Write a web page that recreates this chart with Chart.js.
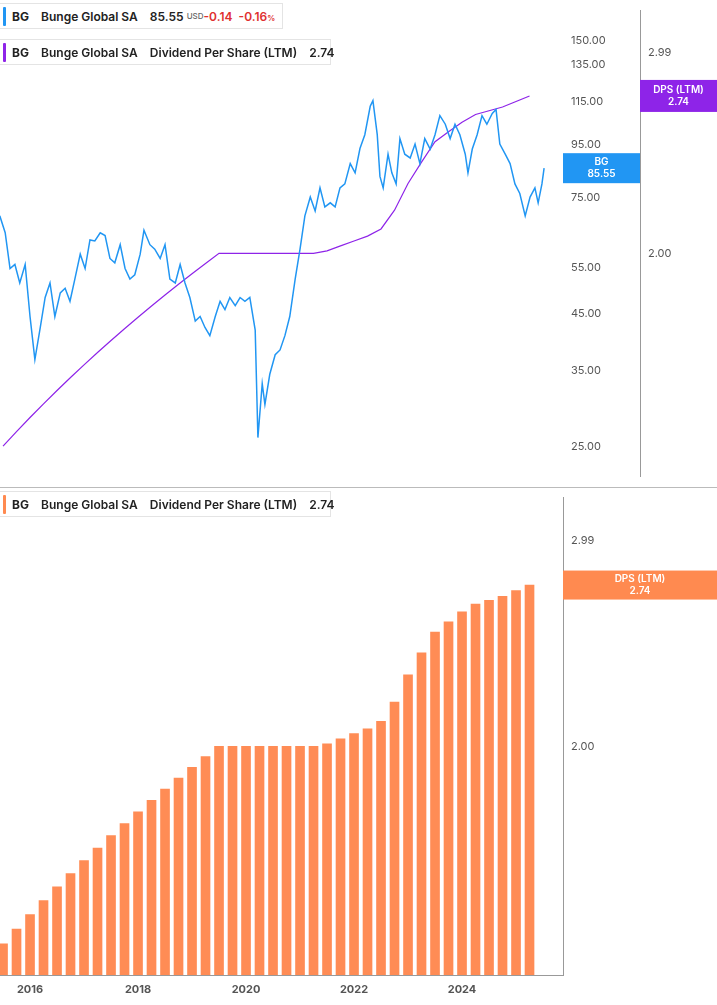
<!DOCTYPE html>
<html><head><meta charset="utf-8">
<script src="https://cdn.jsdelivr.net/npm/chart.js@4.4.1/dist/chart.umd.min.js"></script>
<style>
body{margin:0;width:717px;height:1005px;background:#fff;font-family:Inter,"Noto Sans",sans-serif;position:relative;overflow:hidden}
#c1{position:absolute;left:0;top:0}
#c2{position:absolute;left:0;top:487px}
.sep{position:absolute;left:0;top:487px;width:717px;height:1px;background:#bbb}
.leg{position:absolute;left:0;height:26px;border:1px solid #e4e4e4;border-left:none;background:#fff;font-size:12px;font-weight:600;color:#222;display:flex;align-items:center;padding:0 10px 0 12px;box-sizing:border-box;white-space:pre}
.leg .bar{position:absolute;left:3px;top:3px;width:3px;height:19px;border-radius:1px}
.leg b{font-weight:700}
</style></head><body>
<canvas id="c1" width="717" height="487"></canvas>
<canvas id="c2" width="717" height="518"></canvas>
<div class="sep"></div>
<div class="leg" style="top:3px;width:283px"><span class="bar" style="background:#2196f3"></span><b>BG</b>    Bunge Global SA    85.55 <span style="font-size:8px;color:#666;font-weight:500">USD</span>  <span style="color:#e03030">-0.14  -0.16<span style="font-size:8px">%</span></span></div>
<div class="leg" style="top:39px;width:331px"><span class="bar" style="background:#8e24e8"></span><b>BG</b>    Bunge Global SA    Dividend Per Share (LTM)    2.74</div>
<div class="leg" style="top:491px;width:331px"><span class="bar" style="background:#ff8a50"></span><b>BG</b>    Bunge Global SA    Dividend Per Share (LTM)    2.74</div>
<script>
const priceYears=[2015.44,2015.54,2015.63,2015.72,2015.81,2015.91,2016.00,2016.09,2016.19,2016.28,2016.37,2016.46,2016.56,2016.65,2016.74,2016.83,2016.93,2017.02,2017.11,2017.20,2017.30,2017.39,2017.48,2017.57,2017.67,2017.76,2017.85,2017.94,2018.04,2018.11,2018.22,2018.31,2018.41,2018.50,2018.59,2018.69,2018.78,2018.87,2018.96,2019.06,2019.15,2019.24,2019.33,2019.43,2019.52,2019.61,2019.70,2019.80,2019.89,2019.98,2020.07,2020.17,2020.22,2020.30,2020.35,2020.44,2020.54,2020.63,2020.72,2020.81,2020.91,2021.00,2021.09,2021.19,2021.28,2021.37,2021.46,2021.56,2021.65,2021.74,2021.83,2021.93,2022.02,2022.11,2022.20,2022.30,2022.35,2022.43,2022.48,2022.54,2022.63,2022.70,2022.78,2022.85,2022.94,2023.04,2023.13,2023.22,2023.31,2023.41,2023.50,2023.59,2023.69,2023.78,2023.87,2023.96,2024.06,2024.11,2024.19,2024.28,2024.37,2024.46,2024.56,2024.63,2024.70,2024.80,2024.89,2024.98,2025.07,2025.17,2025.26,2025.35,2025.41,2025.48,2025.52];
const priceValues=[69.3,64.3,54.9,55.9,51.5,55.9,44.4,36.7,42.3,48.3,51.5,44.4,49.3,50.3,47.5,52.4,58.5,54.9,62.3,62.0,64.3,63.5,57.4,56.3,61.0,54.9,52.4,53.4,58.5,65.0,61.0,59.8,57.4,61.0,52.4,51.5,55.9,51.5,48.3,43.5,44.4,42.3,40.8,44.4,47.5,45.8,48.3,46.6,48.3,47.5,48.3,41.8,26.0,33.0,30.1,34.4,37.5,38.3,40.8,44.4,52.4,59.8,69.3,75.3,70.8,78.4,72.1,73.4,72.1,78.4,79.8,87.3,83.8,93.3,99.2,112.5,115.3,99.2,82.5,78.4,91.0,83.8,79.8,97.5,91.0,89.5,95.2,87.3,97.5,93.1,99.2,107.9,103.9,97.5,103.9,99.2,91.0,83.8,93.1,99.2,107.9,103.9,109.0,110.9,95.2,91.0,87.3,79.8,76.5,69.3,75.3,78.4,73.4,79.8,85.55];
const dpsYears=[2015.5,2015.75,2016,2016.25,2016.5,2016.75,2017,2017.25,2017.5,2017.75,2018,2018.25,2018.5,2018.75,2019,2019.25,2019.5,2019.75,2020,2020.25,2020.5,2020.75,2021,2021.25,2021.5,2021.75,2022,2022.25,2022.5,2022.75,2023,2023.25,2023.5,2023.75,2024,2024.25,2024.5,2024.75,2025,2025.25];
const dpsValues=[1.36,1.40,1.44,1.48,1.52,1.56,1.60,1.64,1.68,1.72,1.76,1.80,1.84,1.88,1.92,1.96,2.00,2.00,2.00,2.00,2.00,2.00,2.00,2.00,2.01,2.03,2.05,2.07,2.10,2.18,2.30,2.40,2.50,2.55,2.60,2.64,2.66,2.68,2.71,2.74];
const priceTicks=[150,135,115,95,75,55,45,35,25];
const dpsTicks=[2.99,2.00];
const yearTicks=[2016,2018,2020,2022,2024];
const xMin=2015.444,xMax=2025.87;
const FONT={family:'Inter, "Noto Sans", sans-serif',size:11};
const GREY='#555';

function setTicks(list){return s=>{s.ticks=list.map(v=>({value:v}));};}
function fixW(w){return s=>{s.width=w;};}

const tagPlugin={id:'tags',afterDraw(ch,a,o){
  const ctx=ch.ctx;
  (ch.options.plugins.tags.items||[]).forEach(t=>{
    const s=ch.scales[t.scale];const y=s.getPixelForValue(t.value);
    ctx.fillStyle=t.color;ctx.fillRect(t.x,y-t.h/2,t.w,t.h);
    ctx.fillStyle='#fff';ctx.textAlign='center';ctx.textBaseline='middle';
    ctx.font='600 10px Inter, "Noto Sans", sans-serif';
    ctx.fillText(t.l1,t.x+t.w/2,y-6);ctx.fillText(t.l2,t.x+t.w/2,y+6);
  });
}};

new Chart(document.getElementById('c1'),{
  type:'line',
  data:{datasets:[
    {data:priceYears.map((x,i)=>({x,y:priceValues[i]})),borderColor:'#2196f3',borderWidth:1.5,pointRadius:0,yAxisID:'yp',tension:0},
    {data:dpsYears.map((x,i)=>({x,y:dpsValues[i]})),borderColor:'#8e24e8',borderWidth:1.2,pointRadius:0,yAxisID:'yd',tension:0}
  ]},
  options:{responsive:false,animation:false,layout:{padding:0},
    plugins:{legend:{display:false},tooltip:{enabled:false},
      tags:{items:[
        {scale:'yp',value:85.55,x:563,w:77,h:30,color:'#2196f3',l1:'BG',l2:'85.55'},
        {scale:'yd',value:2.74,x:640,w:77,h:32,color:'#8e24e8',l1:'DPS (LTM)',l2:'2.74'}]}},
    scales:{
      x:{type:'linear',min:xMin,max:xMax,display:false,bounds:'data'},
      yp:{type:'logarithmic',bounds:'data',position:'right',min:21.9,max:171.7,afterBuildTicks:setTicks(priceTicks),afterFit:fixW(77),
        grid:{display:false,drawTicks:true,tickLength:4},border:{display:false},
        ticks:{font:FONT,color:GREY,padding:4,callback:v=>v.toFixed(2)}},
      yd:{type:'logarithmic',bounds:'data',position:'right',min:1.28,max:3.25,afterBuildTicks:setTicks(dpsTicks),afterFit:fixW(77),
        grid:{display:false,drawTicks:true,tickLength:4,color:'#999'},border:{display:true,color:'#999'},
        ticks:{font:FONT,color:GREY,padding:4,callback:v=>v.toFixed(2)}}
    }},
  plugins:[tagPlugin]
});

new Chart(document.getElementById('c2'),{
  type:'bar',
  data:{datasets:[{data:dpsYears.map((x,i)=>({x,y:dpsValues[i]})),backgroundColor:'#ff8c55',barThickness:9,yAxisID:'y'}]},
  options:{responsive:false,animation:false,layout:{padding:0},
    plugins:{legend:{display:false},tooltip:{enabled:false},
      tags:{items:[{scale:'y',value:2.74,x:563,w:154,h:29,color:'#ff8a50',l1:'DPS (LTM)',l2:'2.74'}]}},
    scales:{
      x:{type:'linear',offset:false,bounds:'data',min:xMin,max:xMax,afterBuildTicks:setTicks(yearTicks),afterFit:s=>{s.height=30;},
        grid:{display:false,drawTicks:true,tickLength:4,offset:false},border:{display:true,color:'#999'},
        ticks:{font:{...FONT,weight:'bold'},color:GREY,padding:4,callback:v=>String(v)}},
      y:{type:'logarithmic',bounds:'data',position:'right',min:1.28,max:3.25,afterBuildTicks:setTicks(dpsTicks),afterFit:fixW(154),
        grid:{display:false,drawTicks:true,tickLength:4},border:{display:true,color:'#999'},
        ticks:{font:FONT,color:GREY,padding:4,callback:v=>v.toFixed(2)}}
    }},
  plugins:[tagPlugin]
});
</script></body></html>
